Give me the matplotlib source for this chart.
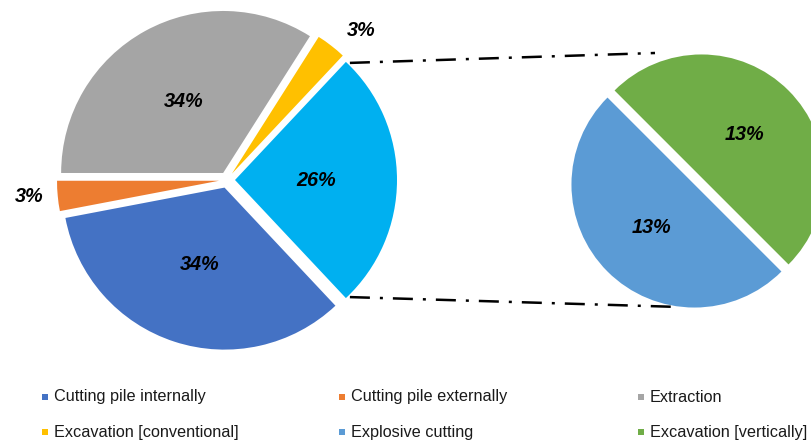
import numpy as np
import matplotlib
matplotlib.use("Agg")
import matplotlib.pyplot as plt
from matplotlib.patches import Rectangle

# ---- data ----
main_labels = ["Cutting pile internally", "Cutting pile externally", "Extraction",
               "Excavation [conventional]", "Other"]
main_values = [34, 3, 34, 3, 26]
main_colors = ["#4472C4", "#ED7D31", "#A5A5A5", "#FFC000", "#00B0F0"]

sub_labels = ["Explosive cutting", "Excavation [vertically]"]
sub_values = [13, 13]
sub_colors = ["#5B9BD5", "#70AD47"]

legend_labels = ["Cutting pile internally", "Cutting pile externally", "Extraction",
                 "Excavation [conventional]", "Explosive cutting", "Excavation [vertically]"]
legend_colors = ["#4472C4", "#ED7D31", "#A5A5A5", "#FFC000", "#5B9BD5", "#70AD47"]

W, H = 812, 441
fig = plt.figure(figsize=(W / 100, H / 100), dpi=100)
ax = fig.add_axes([0, 0, 1, 1])

# left pie geometry (pixel space, y up)
c1 = (227, H - 180)
r1 = 162
wedges1, _ = ax.pie(main_values, colors=main_colors, startangle=313.2, radius=r1,
                    center=c1, explode=[8] * len(main_values), counterclock=False,
                    wedgeprops=dict(linewidth=0), frame=True)

lab_font = dict(fontfamily="Liberation Sans", fontweight="bold", fontstyle="italic",
                fontsize=14.3, color="black", ha="center", va="center")

# small outside labels: nudged like the original chart (layout only)
outside_nudge = {1: (2, 2), 3: (11, -9)}
for i, (w, v) in enumerate(zip(wedges1, main_values)):
    mid = np.deg2rad((w.theta1 + w.theta2) / 2)
    f = 0.55 if v > 10 else 1.24
    dx, dy = outside_nudge.get(i, (0, 0))
    ax.text(c1[0] + f * r1 * np.cos(mid) + dx, c1[1] + f * r1 * np.sin(mid) + dy,
            f"{v}%", **lab_font)

# right pie
c2 = (698, H - 181)
r2 = 123
wedges2, _ = ax.pie(sub_values, colors=sub_colors, startangle=135, radius=r2,
                    center=c2, explode=[5, 5], counterclock=True,
                    wedgeprops=dict(linewidth=0), frame=True)
for w, v in zip(wedges2, sub_values):
    mid = np.deg2rad((w.theta1 + w.theta2) / 2)
    ax.text(c2[0] + 0.54 * r2 * np.cos(mid), c2[1] + 0.54 * r2 * np.sin(mid),
            f"{v}%", **lab_font)

ax.set_xlim(0, W)
ax.set_ylim(0, H)
ax.set_aspect("equal")
ax.axis("off")

# connector lines from the "Other" slice corners to the secondary pie
other = wedges1[-1]
ocx, ocy = other.center
t1, t2 = np.deg2rad(other.theta1), np.deg2rad(other.theta2)
top_start = (ocx + r1 * np.cos(t2) + 4, ocy + r1 * np.sin(t2) - 1)
bot_start = (ocx + r1 * np.cos(t1) + 4, ocy + r1 * np.sin(t1) + 1)
top_end = (c2[0] - 43, c2[1] + r2 + 5)
bot_end = (c2[0] - 18, c2[1] - r2 - 3)
for s, e in [(top_start, top_end), (bot_start, bot_end)]:
    ax.plot([s[0], e[0]], [s[1], e[1]], color="black", lw=1.8,
            dashes=(8, 4, 1.2, 4), solid_capstyle="butt", dash_capstyle="butt")

# legend (3 columns x 2 rows)
col_x = [45, 342, 641]
row_y = [H - 397, H - 432]
leg_font = dict(fontfamily="Liberation Sans", fontsize=11.7,
                color="#1a1a1a", va="center", ha="left")
for i, (lab, col) in enumerate(zip(legend_labels, legend_colors)):
    x = col_x[i % 3]
    y = row_y[i // 3]
    ax.add_patch(Rectangle((x - 3, y - 3), 6, 6, color=col, lw=0))
    ax.text(x + 9, y, lab, **leg_font)

fig.savefig("out.png", dpi=100, facecolor="white")
